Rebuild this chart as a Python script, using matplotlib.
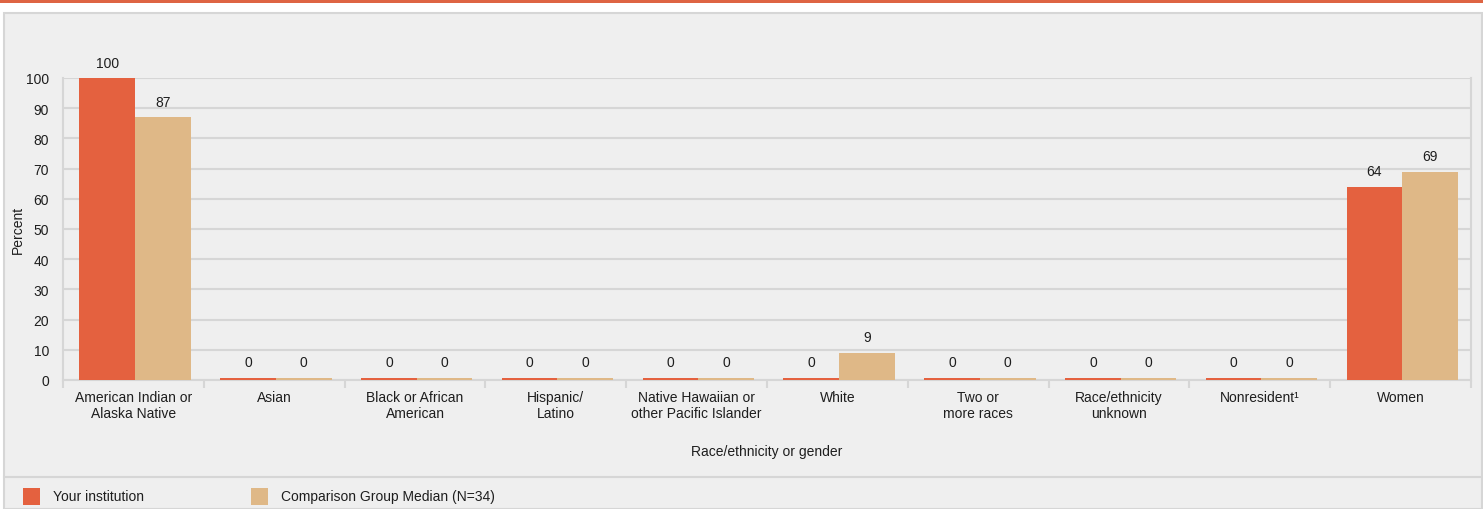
import matplotlib
matplotlib.use("Agg")
import matplotlib.pyplot as plt
import numpy as np
from matplotlib.patches import Rectangle
from matplotlib.lines import Line2D

plt.rcParams['font.family'] = ['Liberation Sans', 'DejaVu Sans']

# Data
categories = ["American Indian or\nAlaska Native", "Asian", "Black or African\nAmerican",
              "Hispanic/\nLatino", "Native Hawaiian or\nother Pacific Islander", "White",
              "Two or\nmore races", "Race/ethnicity\nunknown", "Nonresident\u00b9", "Women"]
your_inst = [100, 0, 0, 0, 0, 0, 0, 0, 0, 64]
comparison = [87, 0, 0, 0, 0, 9, 0, 0, 0, 69]
series_names = ["Your institution", "Comparison Group Median (N=34)"]

red = '#e4613f'
tan = '#dfb887'
grid_c = '#d6d6d6'
panel_c = '#efefef'
txt_c = '#1e1e1e'
fs = 10

W, H = 1483, 510
fig = plt.figure(figsize=(W / 100, H / 100), dpi=100)
fig.patch.set_facecolor('white')

def fx(px):
    return px / W

def fy(py):
    return 1 - py / H

# top band and background panel (behind the axes)
fig.add_artist(Rectangle((0, fy(4)), 1, 4 / H, transform=fig.transFigure,
                         facecolor='#de6443', edgecolor='none', zorder=-2))
fig.add_artist(Rectangle((fx(3.5), 0), fx(1478), fy(13.5), transform=fig.transFigure,
                         facecolor=panel_c, edgecolor=grid_c, linewidth=1.5, zorder=-2))
fig.add_artist(Line2D([fx(3.5), fx(1482)], [fy(478), fy(478)], transform=fig.transFigure,
                      color=grid_c, linewidth=1.5, zorder=-1))

# main axes
x0, x1, ytop, ybot = 63, 1471, 79, 381
ax = fig.add_axes([fx(x0), fy(ybot), fx(x1 - x0), (ybot - ytop) / H])
ax.set_facecolor(panel_c)
n = len(categories)
x = np.arange(n) + 0.5
bw = 0.395
shift = 0.012
h1 = np.maximum(your_inst, 0.8)
h2 = np.maximum(comparison, 0.8)
b1 = ax.bar(x - bw / 2 + shift, h1, bw, color=red, zorder=3)
b2 = ax.bar(x + bw / 2 + shift, h2, bw, color=tan, zorder=3)
ax.bar_label(b1, labels=[str(v) for v in your_inst], padding=6, fontsize=fs, color=txt_c)
ax.bar_label(b2, labels=[str(v) for v in comparison], padding=6, fontsize=fs, color=txt_c)

ax.set_xlim(0, n)
ax.set_ylim(0, 100)
ax.set_yticks(np.arange(0, 101, 10))
ax.yaxis.grid(True, color=grid_c, linewidth=1.5, zorder=0)
ax.set_axisbelow(True)
ax.tick_params(axis='y', length=0, pad=10, labelsize=fs, labelcolor=txt_c)

ax.set_xticks(x)
ax.set_xticklabels(categories, fontsize=fs, color=txt_c, linespacing=1.2)
ax.set_xticks(np.arange(0, n + 1), minor=True)
ax.tick_params(axis='x', which='major', length=0, pad=7)
ax.tick_params(axis='x', which='minor', length=5.5, width=1.5, color=grid_c)

for s in ['left', 'right', 'bottom']:
    ax.spines[s].set_color(grid_c)
    ax.spines[s].set_linewidth(1.5)
ax.spines['top'].set_visible(False)

ax.set_xlabel("Race/ethnicity or gender", fontsize=fs, color=txt_c, labelpad=17)
ax.set_ylabel("Percent", fontsize=fs, color=txt_c, labelpad=1)

# legend
for i, (name, col) in enumerate(zip(series_names, [red, tan])):
    lx = [23, 251][i]
    fig.add_artist(Rectangle((fx(lx), fy(506)), fx(17), 17 / H, transform=fig.transFigure,
                             facecolor=col, edgecolor='none'))
    fig.text(fx(lx + 30), fy(497.5), name, fontsize=fs, color=txt_c, va='center')

fig.savefig('out.png', dpi=100, facecolor=fig.get_facecolor())
